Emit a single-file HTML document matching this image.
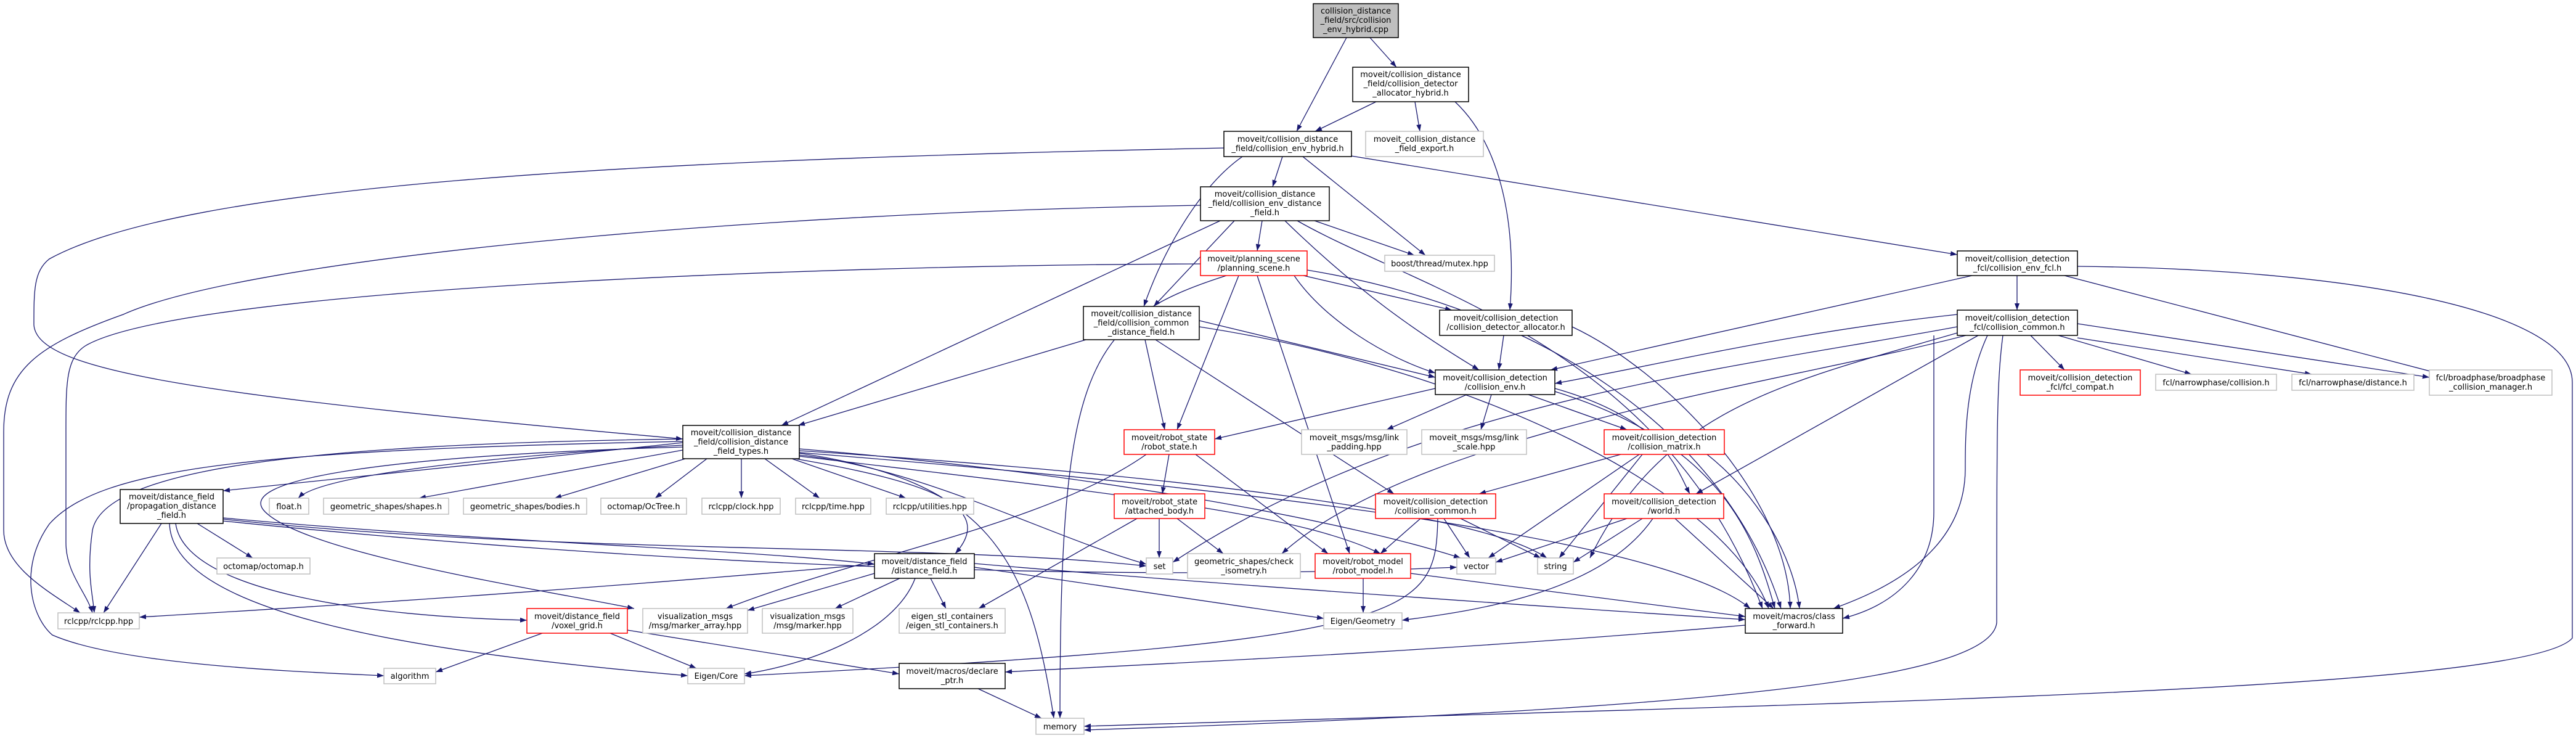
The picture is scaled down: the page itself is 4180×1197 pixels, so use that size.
<!DOCTYPE html>
<html><head><meta charset="utf-8"><style>
html,body{margin:0;padding:0;background:#fff;}
svg{display:block;}
text{font-family:"DejaVu Sans","Liberation Sans",sans-serif;font-size:13px;fill:#000;text-anchor:middle;}
.e{fill:none;stroke:#191970;stroke-width:1.3;marker-end:url(#a);}
.b{fill:#fff;stroke:#000;stroke-width:1.5;}
.g{fill:#fff;stroke:#bfbfbf;stroke-width:1.5;}
.r{fill:#fff;stroke:#ff0000;stroke-width:1.5;}
.root{fill:#bfbfbf;stroke:#000;stroke-width:1.5;}
</style></head><body>
<svg width="4180" height="1197" viewBox="0 0 4180 1197" xmlns="http://www.w3.org/2000/svg">
<defs><marker id="a" markerWidth="11" markerHeight="8" refX="11" refY="4" orient="auto" markerUnits="userSpaceOnUse"><path d="M0,0 L11,4 L0,8 z" fill="#191970"/></marker></defs>
<g>
<path class="e" d="M2185,61 L2104,213"/>
<path class="e" d="M2223,61 L2266,109"/>
<path class="e" d="M2233,165 L2134,213"/>
<path class="e" d="M2296,165 L2304,213"/>
<path class="e" d="M2361,165 C2430,230 2462,350 2450,503"/>
<path class="e" d="M2081,254 L2065,303"/>
<path class="e" d="M2114,254 L2313,414"/>
<path class="e" d="M2193,253 L3176,413"/>
<path class="e" d="M2016,254 C1950,300 1890,400 1856,497"/>
<path class="e" d="M1986,240 C1000,260 300,300 80,420 C55,440 55,470 55,527 C60,600 300,640 1108,712"/>
<path class="e" d="M2048,358 L2040,407"/>
<path class="e" d="M2133,358 L2295,414"/>
<path class="e" d="M2003,358 L1872,497"/>
<path class="e" d="M1980,358 L1268,690"/>
<path class="e" d="M2085,358 C2200,470 2300,540 2400,600"/>
<path class="e" d="M2105,358 C2300,470 2700,560 2860,987"/>
<path class="e" d="M1948,333 C1200,345 400,420 200,510 C60,560 6,600 6,700 L6,860 C6,920 80,960 130,994"/>
<path class="e" d="M1948,428 C1300,430 300,470 140,560 C107,580 107,620 107,700 L107,880 C107,930 140,960 150,994"/>
<path class="e" d="M2115,447 L2356,503"/>
<path class="e" d="M2100,447 C2150,520 2250,580 2329,605"/>
<path class="e" d="M2010,447 L1910,697"/>
<path class="e" d="M2040,447 L2190,898"/>
<path class="e" d="M1990,447 C1760,520 1720,600 1720,1165"/>
<path class="e" d="M2121,438 C2500,500 2800,700 2890,987"/>
<path class="e" d="M1762,551 L1295,690"/>
<path class="e" d="M1858,551 L1890,697"/>
<path class="e" d="M1946,520 L2329,612"/>
<path class="e" d="M1875,551 L2262,801"/>
<path class="e" d="M1946,530 C2400,600 2800,800 2870,987"/>
<path class="e" d="M2440,544 L2432,600"/>
<path class="e" d="M2551,530 C2700,600 2900,800 2905,987"/>
<path class="e" d="M3200,447 L2516,600"/>
<path class="e" d="M3176,510 C2900,540 2700,590 2523,622"/>
<path class="e" d="M3273,447 L3273,503"/>
<path class="e" d="M3350,447 L3962,607"/>
<path class="e" d="M3371,432 C3800,436 4174,500 4174,620 L4174,1035 C4100,1120 3000,1140 1759,1178"/>
<path class="e" d="M3295,544 L3350,600"/>
<path class="e" d="M3340,544 L3556,607"/>
<path class="e" d="M3371,548 L3751,607"/>
<path class="e" d="M3371,525 L3942,612"/>
<path class="e" d="M3138,544 L3138,830 C3138,920 3080,980 2990,1003"/>
<path class="e" d="M3225,544 C3190,620 3189,700 3189,760 C3189,900 3050,960 2975,987"/>
<path class="e" d="M3250,544 C3240,620 3240,700 3240,1010 C3230,1100 2800,1150 1759,1184"/>
<path class="e" d="M3210,544 L2752,801"/>
<path class="e" d="M3176,530 C2800,600 2300,650 1903,912"/>
<path class="e" d="M3190,544 C2900,620 2300,700 2080,898"/>
<path class="e" d="M3176,540 C2900,620 2700,660 2580,905"/>
<path class="e" d="M2329,630 L1971,712"/>
<path class="e" d="M2380,640 L2250,697"/>
<path class="e" d="M2420,640 L2403,697"/>
<path class="e" d="M2480,640 L2640,697"/>
<path class="e" d="M2523,630 C2700,680 2720,760 2742,801"/>
<path class="e" d="M2523,635 C2800,720 2850,880 2880,987"/>
<path class="e" d="M1897,737 L1886,801"/>
<path class="e" d="M1940,737 L2155,898"/>
<path class="e" d="M1860,737 C1700,850 1400,900 1178,987"/>
<path class="e" d="M1881,841 L1881,905"/>
<path class="e" d="M1910,841 L1985,898"/>
<path class="e" d="M1845,841 L1588,987"/>
<path class="e" d="M2630,737 L2400,801"/>
<path class="e" d="M2660,737 L2415,905"/>
<path class="e" d="M2665,737 L2530,905"/>
<path class="e" d="M2770,737 C2850,800 2910,900 2920,987"/>
<path class="e" d="M2305,841 L2240,898"/>
<path class="e" d="M2343,841 L2385,905"/>
<path class="e" d="M2370,841 L2500,905"/>
<path class="e" d="M2333,841 C2330,1000 2300,1040 1208,1096"/>
<path class="e" d="M2640,841 L2427,912"/>
<path class="e" d="M2665,841 L2553,912"/>
<path class="e" d="M2682,841 C2600,960 2400,990 2275,1006"/>
<path class="e" d="M2718,841 L2878,987"/>
<path class="e" d="M2212,938 L2212,994"/>
<path class="e" d="M2289,930 L2832,1000"/>
<path class="e" d="M2832,1014 C2300,1060 1800,1080 1631,1090"/>
<path class="e" d="M1587,1117 L1690,1165"/>
<path class="e" d="M1419,915 C900,960 500,985 226,1001"/>
<path class="e" d="M1419,930 L1213,990"/>
<path class="e" d="M1460,938 L1355,987"/>
<path class="e" d="M1510,938 L1535,987"/>
<path class="e" d="M1485,938 C1450,1030 1300,1080 1208,1093"/>
<path class="e" d="M1581,920 L2148,1003"/>
<path class="e" d="M1581,914 C2000,950 2600,990 2832,1005"/>
<path class="e" d="M880,1027 L707,1090"/>
<path class="e" d="M990,1027 L1130,1084"/>
<path class="e" d="M1018,1022 L1459,1093"/>
<path class="e" d="M262,849 L168,994"/>
<path class="e" d="M320,849 L410,905"/>
<path class="e" d="M285,849 C300,960 600,1000 855,1006"/>
<path class="e" d="M275,849 C280,1000 700,1060 1116,1096"/>
<path class="e" d="M362,840 C800,880 1200,890 1419,915"/>
<path class="e" d="M362,842 C900,900 1500,880 1860,918"/>
<path class="e" d="M362,845 C1200,930 1900,940 2364,920"/>
<path class="e" d="M1108,718 L362,796"/>
<path class="e" d="M1108,722 C800,740 520,770 484,808"/>
<path class="e" d="M1108,730 L680,808"/>
<path class="e" d="M1112,744 L900,808"/>
<path class="e" d="M1147,744 L1063,808"/>
<path class="e" d="M1203,744 L1203,808"/>
<path class="e" d="M1241,744 L1330,808"/>
<path class="e" d="M1285,744 L1470,808"/>
<path class="e" d="M1290,744 C1500,780 1620,820 1550,898"/>
<path class="e" d="M1297,735 C1600,780 1670,900 1710,1165"/>
<path class="e" d="M1108,712 C500,720 170,760 150,860 C140,930 150,960 153,994"/>
<path class="e" d="M1108,716 C400,730 160,760 80,850 C30,920 50,1000 85,1030 C200,1080 500,1090 623,1096"/>
<path class="e" d="M1108,725 C600,740 380,780 430,830 C500,900 900,960 1029,987"/>
<path class="e" d="M1297,728 C1800,770 2200,850 2370,905"/>
<path class="e" d="M1297,731 C1900,770 2400,830 2510,905"/>
<path class="e" d="M1297,734 C2000,790 2700,870 2840,987"/>
<path class="e" d="M1297,738 C1500,760 1700,870 1860,915"/>
<path class="e" d="M1297,740 C1800,800 2100,830 2240,898"/>
</g>
<g>
<rect class="root" x="2131" y="6" width="138" height="55"/><text x="2200" y="22">collision_distance</text><text x="2200" y="37">_field/src/collision</text><text x="2200" y="52">_env_hybrid.cpp</text>
<rect class="b" x="2195" y="109" width="188" height="56"/><text x="2289" y="125">moveit/collision_distance</text><text x="2289" y="140">_field/collision_detector</text><text x="2289" y="155">_allocator_hybrid.h</text>
<rect class="b" x="1986" y="213" width="207" height="41"/><text x="2089.5" y="230">moveit/collision_distance</text><text x="2089.5" y="245">_field/collision_env_hybrid.h</text>
<rect class="g" x="2216" y="213" width="191" height="41"/><text x="2311.5" y="230">moveit_collision_distance</text><text x="2311.5" y="245">_field_export.h</text>
<rect class="b" x="1948" y="303" width="209" height="55"/><text x="2052.5" y="319">moveit/collision_distance</text><text x="2052.5" y="334">_field/collision_env_distance</text><text x="2052.5" y="349">_field.h</text>
<rect class="r" x="1948" y="407" width="173" height="40"/><text x="2034.5" y="424">moveit/planning_scene</text><text x="2034.5" y="439">/planning_scene.h</text>
<rect class="g" x="2247" y="414" width="178" height="26"/><text x="2336" y="432">boost/thread/mutex.hpp</text>
<rect class="b" x="3176" y="407" width="195" height="40"/><text x="3273.5" y="424">moveit/collision_detection</text><text x="3273.5" y="439">_fcl/collision_env_fcl.h</text>
<rect class="b" x="1758" y="497" width="188" height="54"/><text x="1852" y="513">moveit/collision_distance</text><text x="1852" y="528">_field/collision_common</text><text x="1852" y="543">_distance_field.h</text>
<rect class="b" x="2336" y="503" width="215" height="41"/><text x="2443.5" y="520">moveit/collision_detection</text><text x="2443.5" y="535">/collision_detector_allocator.h</text>
<rect class="b" x="3176" y="503" width="195" height="41"/><text x="3273.5" y="520">moveit/collision_detection</text><text x="3273.5" y="535">_fcl/collision_common.h</text>
<rect class="b" x="2329" y="600" width="194" height="40"/><text x="2426" y="617">moveit/collision_detection</text><text x="2426" y="632">/collision_env.h</text>
<rect class="r" x="3278" y="600" width="195" height="41"/><text x="3375.5" y="617">moveit/collision_detection</text><text x="3375.5" y="632">_fcl/fcl_compat.h</text>
<rect class="g" x="3498" y="607" width="196" height="26"/><text x="3596" y="625">fcl/narrowphase/collision.h</text>
<rect class="g" x="3719" y="607" width="198" height="26"/><text x="3818" y="625">fcl/narrowphase/distance.h</text>
<rect class="g" x="3942" y="600" width="199" height="41"/><text x="4041.5" y="617">fcl/broadphase/broadphase</text><text x="4041.5" y="632">_collision_manager.h</text>
<rect class="b" x="1108" y="690" width="189" height="54"/><text x="1202.5" y="706">moveit/collision_distance</text><text x="1202.5" y="721">_field/collision_distance</text><text x="1202.5" y="736">_field_types.h</text>
<rect class="r" x="1824" y="697" width="147" height="40"/><text x="1897.5" y="714">moveit/robot_state</text><text x="1897.5" y="729">/robot_state.h</text>
<rect class="g" x="2112" y="697" width="171" height="40"/><text x="2197.5" y="714">moveit_msgs/msg/link</text><text x="2197.5" y="729">_padding.hpp</text>
<rect class="g" x="2307" y="697" width="170" height="40"/><text x="2392" y="714">moveit_msgs/msg/link</text><text x="2392" y="729">_scale.hpp</text>
<rect class="r" x="2603" y="697" width="195" height="40"/><text x="2700.5" y="714">moveit/collision_detection</text><text x="2700.5" y="729">/collision_matrix.h</text>
<rect class="b" x="195" y="794" width="167" height="55"/><text x="278.5" y="810">moveit/distance_field</text><text x="278.5" y="825">/propagation_distance</text><text x="278.5" y="840">_field.h</text>
<rect class="g" x="437" y="808" width="64" height="26"/><text x="469" y="826">float.h</text>
<rect class="g" x="525" y="808" width="203" height="26"/><text x="626.5" y="826">geometric_shapes/shapes.h</text>
<rect class="g" x="752" y="808" width="200" height="26"/><text x="852" y="826">geometric_shapes/bodies.h</text>
<rect class="g" x="975" y="808" width="139" height="26"/><text x="1044.5" y="826">octomap/OcTree.h</text>
<rect class="g" x="1139" y="808" width="127" height="26"/><text x="1202.5" y="826">rclcpp/clock.hpp</text>
<rect class="g" x="1291" y="808" width="122" height="26"/><text x="1352" y="826">rclcpp/time.hpp</text>
<rect class="g" x="1438" y="808" width="142" height="26"/><text x="1509" y="826">rclcpp/utilities.hpp</text>
<rect class="r" x="1808" y="801" width="147" height="40"/><text x="1881.5" y="818">moveit/robot_state</text><text x="1881.5" y="833">/attached_body.h</text>
<rect class="r" x="2232" y="801" width="195" height="40"/><text x="2329.5" y="818">moveit/collision_detection</text><text x="2329.5" y="833">/collision_common.h</text>
<rect class="r" x="2603" y="801" width="194" height="40"/><text x="2700" y="818">moveit/collision_detection</text><text x="2700" y="833">/world.h</text>
<rect class="g" x="352" y="905" width="151" height="26"/><text x="427.5" y="923">octomap/octomap.h</text>
<rect class="b" x="1419" y="898" width="162" height="40"/><text x="1500" y="915">moveit/distance_field</text><text x="1500" y="930">/distance_field.h</text>
<rect class="g" x="1860" y="905" width="43" height="26"/><text x="1881.5" y="923">set</text>
<rect class="g" x="1927" y="898" width="183" height="40"/><text x="2018.5" y="915">geometric_shapes/check</text><text x="2018.5" y="930">_isometry.h</text>
<rect class="r" x="2134" y="898" width="155" height="40"/><text x="2211.5" y="915">moveit/robot_model</text><text x="2211.5" y="930">/robot_model.h</text>
<rect class="g" x="2364" y="905" width="63" height="26"/><text x="2395.5" y="923">vector</text>
<rect class="g" x="2495" y="905" width="58" height="26"/><text x="2524" y="923">string</text>
<rect class="g" x="94" y="994" width="132" height="26"/><text x="160" y="1012">rclcpp/rclcpp.hpp</text>
<rect class="r" x="855" y="987" width="163" height="40"/><text x="936.5" y="1004">moveit/distance_field</text><text x="936.5" y="1019">/voxel_grid.h</text>
<rect class="g" x="1043" y="987" width="170" height="40"/><text x="1128" y="1004">visualization_msgs</text><text x="1128" y="1019">/msg/marker_array.hpp</text>
<rect class="g" x="1237" y="987" width="147" height="40"/><text x="1310.5" y="1004">visualization_msgs</text><text x="1310.5" y="1019">/msg/marker.hpp</text>
<rect class="g" x="1459" y="987" width="172" height="40"/><text x="1545" y="1004">eigen_stl_containers</text><text x="1545" y="1019">/eigen_stl_containers.h</text>
<rect class="g" x="2148" y="994" width="127" height="26"/><text x="2211.5" y="1012">Eigen/Geometry</text>
<rect class="b" x="2832" y="987" width="158" height="40"/><text x="2911" y="1004">moveit/macros/class</text><text x="2911" y="1019">_forward.h</text>
<rect class="g" x="623" y="1084" width="84" height="25"/><text x="665" y="1101">algorithm</text>
<rect class="g" x="1116" y="1084" width="92" height="25"/><text x="1162" y="1101">Eigen/Core</text>
<rect class="b" x="1459" y="1076" width="172" height="41"/><text x="1545" y="1093">moveit/macros/declare</text><text x="1545" y="1108">_ptr.h</text>
<rect class="g" x="1681" y="1165" width="78" height="26"/><text x="1720" y="1183">memory</text>
</g>
</svg>
</body></html>
